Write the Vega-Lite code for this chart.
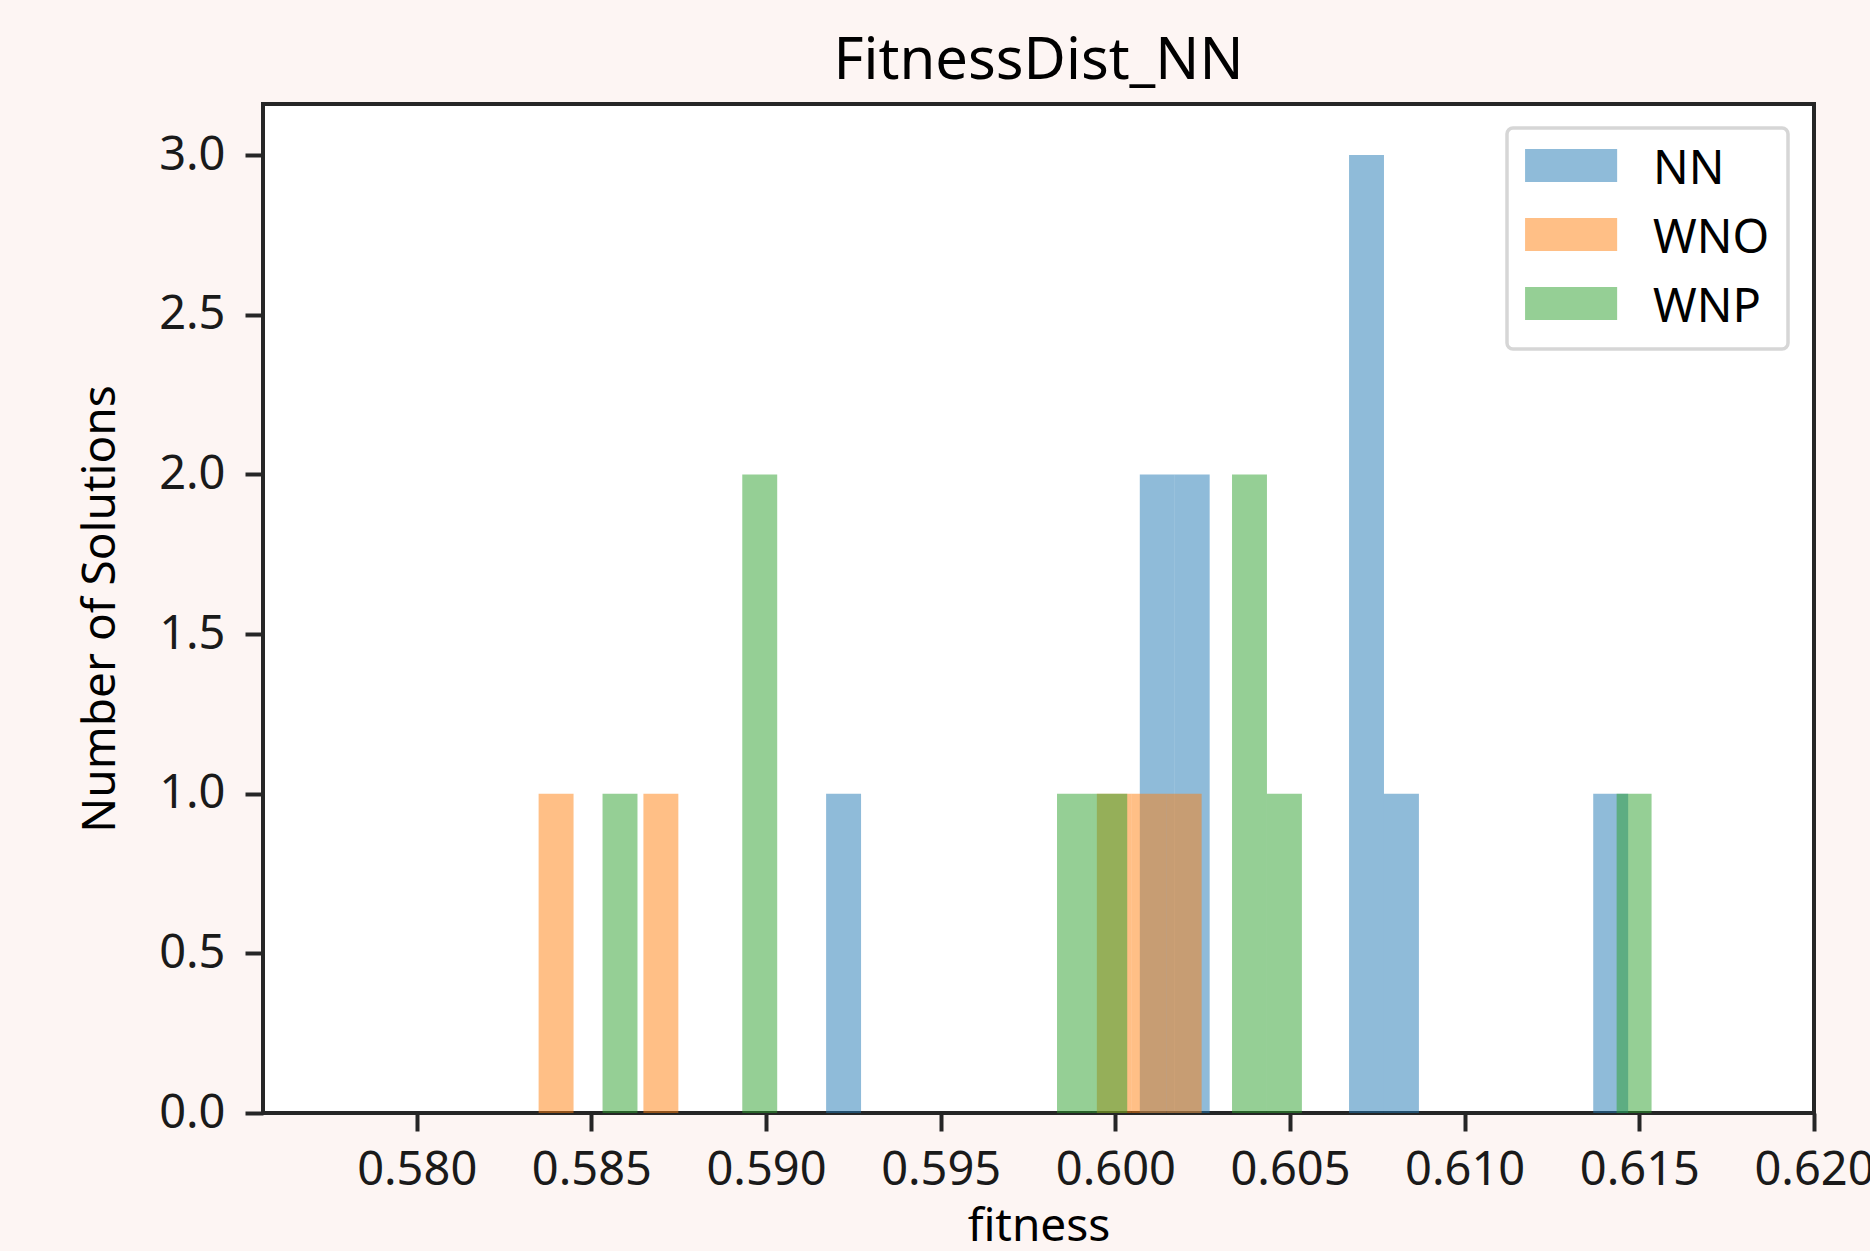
{
  "$schema": "https://vega.github.io/schema/vega-lite/v6.json",
  "width": 1551,
  "height": 1009,
  "autosize": {"type": "none"},
  "padding": {"left": 263, "top": 104, "right": 56, "bottom": 138},
  "background": "#fdf5f3",
  "title": {
    "text": "FitnessDist_NN",
    "font": "Noto Sans",
    "fontSize": 58,
    "fontWeight": "normal",
    "color": "#000000",
    "baseline": "alphabetic",
    "offset": 20,
    "dy": 53
  },
  "data": {
    "values": [
      {"series": "NN", "x0": 0.59172, "x1": 0.59272, "count": 1},
      {"series": "NN", "x0": 0.60070, "x1": 0.60170, "count": 2},
      {"series": "NN", "x0": 0.60170, "x1": 0.60270, "count": 2},
      {"series": "NN", "x0": 0.60669, "x1": 0.60769, "count": 3},
      {"series": "NN", "x0": 0.60769, "x1": 0.60869, "count": 1},
      {"series": "NN", "x0": 0.61368, "x1": 0.61468, "count": 1},
      {"series": "WNO", "x0": 0.58349, "x1": 0.58449, "count": 1},
      {"series": "WNO", "x0": 0.58649, "x1": 0.58749, "count": 1},
      {"series": "WNO", "x0": 0.59947, "x1": 0.60047, "count": 1},
      {"series": "WNO", "x0": 0.60047, "x1": 0.60147, "count": 1},
      {"series": "WNO", "x0": 0.60147, "x1": 0.60247, "count": 1},
      {"series": "WNP", "x0": 0.58532, "x1": 0.58632, "count": 1},
      {"series": "WNP", "x0": 0.58932, "x1": 0.59032, "count": 2},
      {"series": "WNP", "x0": 0.59833, "x1": 0.59933, "count": 1},
      {"series": "WNP", "x0": 0.59933, "x1": 0.60034, "count": 1},
      {"series": "WNP", "x0": 0.60334, "x1": 0.60434, "count": 2},
      {"series": "WNP", "x0": 0.60434, "x1": 0.60534, "count": 1},
      {"series": "WNP", "x0": 0.61435, "x1": 0.61535, "count": 1}
    ]
  },
  "mark": {"type": "rect", "opacity": 0.5, "strokeWidth": 0},
  "encoding": {
    "x": {
      "field": "x0",
      "type": "quantitative",
      "scale": {"domain": [0.5756, 0.62], "nice": false, "zero": false},
      "axis": {
        "title": "fitness",
        "values": [0.58, 0.585, 0.59, 0.595, 0.6, 0.605, 0.61, 0.615, 0.62],
        "format": ".3f",
        "labelPadding": 16,
        "titlePadding": 11
      }
    },
    "x2": {"field": "x1"},
    "y": {
      "field": "count",
      "type": "quantitative",
      "scale": {"domain": [0, 3.16], "nice": false},
      "axis": {
        "title": "Number of Solutions",
        "values": [0, 0.5, 1, 1.5, 2, 2.5, 3],
        "format": ".1f",
        "labelPadding": 20,
        "titlePadding": 34
      }
    },
    "y2": {"datum": 0},
    "color": {
      "field": "series",
      "type": "nominal",
      "scale": {"domain": ["NN", "WNO", "WNP"], "range": ["#1f77b4", "#ff7f0e", "#2ca02c"]},
      "legend": {
        "title": null,
        "orient": "none",
        "legendX": 1244,
        "legendY": 24,
        "padding": 18,
        "fillColor": "#ffffff",
        "strokeColor": "#d6d6d6",
        "cornerRadius": 6,
        "rowPadding": 21,
        "symbolType": "M-1.42,-1.24H4.16V0.76H-1.42Z",
        "symbolSize": 1089,
        "symbolOpacity": 0.5,
        "symbolStrokeWidth": 0,
        "labelOffset": 81,
        "labelFont": "Noto Sans",
        "labelFontSize": 47,
        "labelColor": "#000000",
        "encode": {"legend": {"update": {"strokeWidth": {"value": 3.5}}}}
      }
    }
  },
  "config": {
    "view": {"stroke": "#262626", "strokeWidth": 4, "fill": "#ffffff"},
    "axis": {
      "domain": false,
      "grid": false,
      "ticks": true,
      "tickColor": "#262626",
      "tickWidth": 4,
      "tickSize": 18,
      "labelFont": "Noto Sans",
      "labelFontSize": 47,
      "labelColor": "#1a1a1a",
      "labelFlush": false,
      "labelBound": false,
      "labelOverlap": false,
      "titleFont": "Noto Sans",
      "titleFontSize": 46,
      "titleFontWeight": "normal",
      "titleColor": "#000000"
    }
  }
}
